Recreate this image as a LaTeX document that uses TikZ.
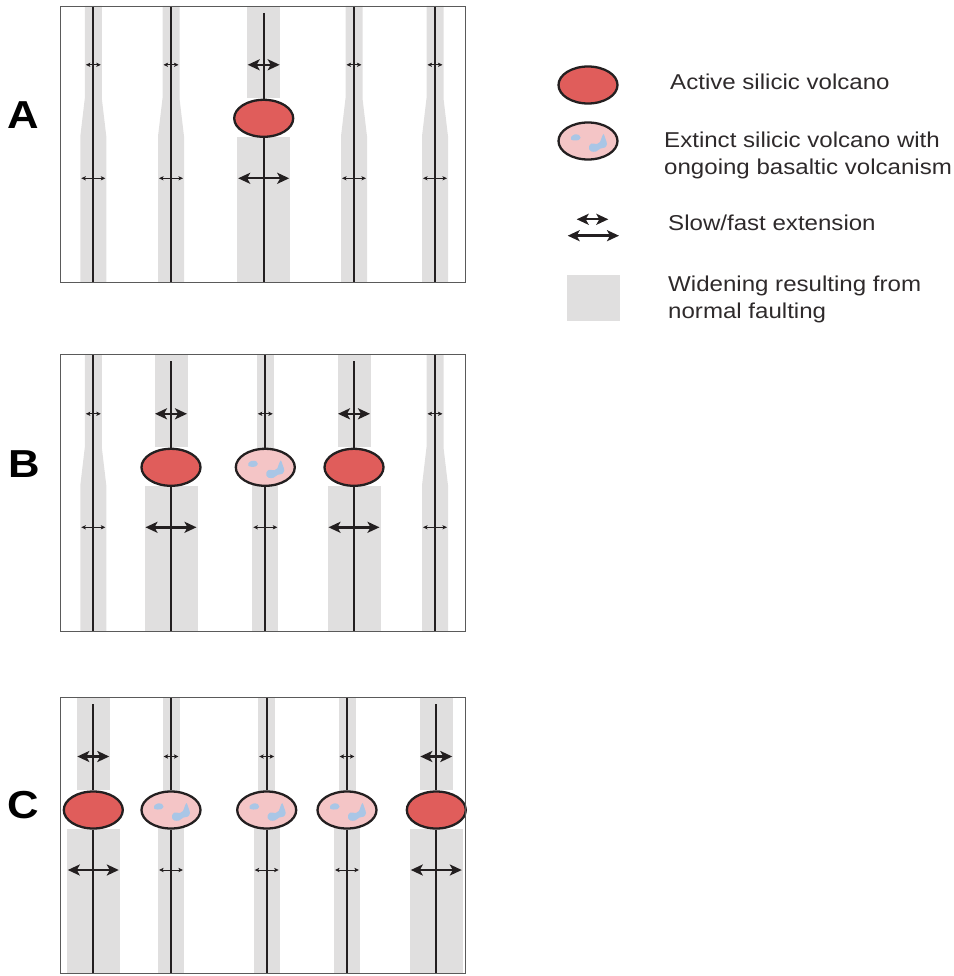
\documentclass[tikz,border=0pt]{standalone}
\usepackage{fontspec}
\setmainfont{Liberation Sans}[FakeStretch=1.12]
\usetikzlibrary{arrows.meta,shapes.geometric}

\definecolor{stripgray}{HTML}{E0DFDF}
\definecolor{faultink}{HTML}{231F20}
\definecolor{framegray}{HTML}{5A5A5A}
\definecolor{activered}{HTML}{E05D5B}
\definecolor{extinctpink}{HTML}{F4C5C6}
\definecolor{basaltblue}{HTML}{A9C6E6}

\tikzset{
  stripfill/.style={fill=stripgray, draw=none},
  fault/.style={draw=faultink, line width=2.2pt},
  panelframe/.style={draw=framegray, line width=1.3pt},
  slowext/.style={draw=faultink, line width=0.9pt,
    {Stealth[length=4.5pt,width=4.2pt,inset=1pt]}-{Stealth[length=4.5pt,width=4.2pt,inset=1pt]}},
  fastext/.style={draw=faultink, line width=2.4pt,
    {Stealth[length=12pt,width=11pt,inset=3pt]}-{Stealth[length=12pt,width=11pt,inset=3pt]}},
  volcano/.style={ellipse, draw=faultink, line width=2.3pt, minimum width=59pt,
    minimum height=37pt, inner sep=0pt},
  activevolc/.style={volcano, fill=activered},
  extinctvolc/.style={volcano, fill=extinctpink},
  panellabel/.style={anchor=base west, inner sep=0pt, font=\fontsize{39}{39}\selectfont\bfseries},
  legendtext/.style={anchor=base west, inner sep=0pt, align=left,
    font=\fontsize{21.5}{27.3}\selectfont, text=faultink!95!white},
}

% basaltic patches inside an extinct volcano, drawn about its centre
\newcommand{\basaltpatches}[1]{%
  \begin{scope}[shift={(#1.center)}]
    \fill[basaltblue] plot[smooth cycle, tension=0.6] coordinates
      {(-17,-4) (-13.5,-6.5) (-9,-6) (-7.5,-3.5) (-9.5,-1) (-13.5,-0.5) (-17,-1.5)};
    \fill[basaltblue] plot[smooth cycle, tension=0.5] coordinates
      {(1,5.5) (3.5,2.5) (9,3) (12,1) (13.5,-3) (15.5,-7) (17.5,-2) (19,3) (17,6.5)
       (12.5,7.5) (8,10.5) (3.5,10.5) (1,8)};
  \end{scope}}

% fault whose zone of normal faulting widens southward (no volcano)
% #1 name, #2 x, #3 level of the volcano row, #4 top, #5 bottom
\newcommand{\taperfault}[5]{%
  \fill[stripfill] (#2-8.5,#4) -- (#2+8.5,#4) -- (#2+8.5,#3-20) -- (#2+13,#3+18)
    -- (#2+13,#5) -- (#2-13,#5) -- (#2-13,#3+18) -- (#2-8.5,#3-20) -- cycle;
  \coordinate (#1t) at (#2,#4);
  \coordinate (#1b) at (#2,#5);
  \draw[fault] (#1t) -- (#1b);
  \coordinate (#1ul) at (#2-7.5,#3-53.5); \coordinate (#1ur) at (#2+7.5,#3-53.5);
  \coordinate (#1ll) at (#2-12,#3+60);    \coordinate (#1lr) at (#2+12,#3+60);
  \draw[slowext] (#1ul) -- (#1ur);
  \draw[slowext] (#1ll) -- (#1lr);
}

% fault with an active silicic volcano and fast extension
\newcommand{\activefault}[5]{%
  \fill[stripfill] (#2-16.5,#4) rectangle (#2+16.5,#3-20);
  \fill[stripfill] (#2-26.5,#3+19) rectangle (#2+26.5,#5);
  \node[activevolc] (#1v) at (#2,#3) {};
  \coordinate (#1t) at (#2,#4+7);
  \coordinate (#1b) at (#2,#5);
  \draw[fault] (#1t) -- (#1v.north);
  \draw[fault] (#1v.south) -- (#1b);
  \coordinate (#1ul) at (#2-16,#3-53.5);  \coordinate (#1ur) at (#2+16,#3-53.5);
  \coordinate (#1ll) at (#2-25.5,#3+60);  \coordinate (#1lr) at (#2+25.5,#3+60);
  \draw[fastext] (#1ul) -- (#1ur);
  \draw[fastext] (#1ll) -- (#1lr);
}

% fault with an extinct silicic volcano and slow extension
\newcommand{\extinctfault}[5]{%
  \fill[stripfill] (#2-8.5,#4) rectangle (#2+8.5,#3);
  \fill[stripfill] (#2-13,#3) rectangle (#2+13,#5);
  \node[extinctvolc] (#1v) at (#2,#3) {};
  \coordinate (#1t) at (#2,#4);
  \coordinate (#1b) at (#2,#5);
  \draw[fault] (#1t) -- (#1v.north);
  \draw[fault] (#1v.south) -- (#1b);
  \basaltpatches{#1v}
  \coordinate (#1ul) at (#2-7.5,#3-53.5); \coordinate (#1ur) at (#2+7.5,#3-53.5);
  \coordinate (#1ll) at (#2-12,#3+60);    \coordinate (#1lr) at (#2+12,#3+60);
  \draw[slowext] (#1ul) -- (#1ur);
  \draw[slowext] (#1ll) -- (#1lr);
}

\begin{document}
\begin{tikzpicture}[x=1pt, y=-1pt]
\useasboundingbox (0,0) rectangle (953,976);

% ---- stage A
\taperfault{A1}{93.3}{118.3}{6}{282}
\taperfault{A2}{171}{118.3}{6}{282}
\activefault{A3}{263.7}{118.3}{6}{282}
\taperfault{A4}{354}{118.3}{6}{282}
\taperfault{A5}{435}{118.3}{6}{282}
\node[panelframe, draw, minimum width=405pt, minimum height=276pt, anchor=north west,
  inner sep=0pt] (frameA) at (60,6) {};
\node[panellabel] (labA) at (7.5,128.3) {A};

% ---- stage B
\taperfault{B1}{93.3}{467.3}{354}{631}
\activefault{B2}{171}{467.3}{354}{631}
\extinctfault{B3}{265.3}{467.3}{354}{631}
\activefault{B4}{354}{467.3}{354}{631}
\taperfault{B5}{435}{467.3}{354}{631}
\node[panelframe, draw, minimum width=405pt, minimum height=277pt, anchor=north west,
  inner sep=0pt] (frameB) at (60,354) {};
\node[panellabel] (labB) at (8.5,477.3) {B};

% ---- stage C
\activefault{C1}{93.3}{810}{697}{973}
\extinctfault{C2}{171}{810}{697}{973}
\extinctfault{C3}{266.7}{810}{697}{973}
\extinctfault{C4}{347}{810}{697}{973}
\activefault{C5}{436.3}{810}{697}{973}
\node[panelframe, draw, minimum width=405pt, minimum height=276pt, anchor=north west,
  inner sep=0pt] (frameC) at (60,697) {};
\node[panellabel] (labC) at (7.5,818) {C};

% ---- key (two-line entries are placed by the baseline of their last line)
\node[activevolc] (keyActive) at (588,85) {};
\node[legendtext] (keyActiveText) at (670,90) {Active silicic volcano};

\node[extinctvolc] (keyExtinct) at (588,141) {};
\basaltpatches{keyExtinct}
\node[legendtext] (keyExtinctText) at (664,174.6)
  {Extinct silicic volcano with\\ongoing basaltic volcanism};

\coordinate (keySlowL) at (576.7,219.3); \coordinate (keySlowR) at (608.3,219.3);
\coordinate (keyFastL) at (567.7,235.7); \coordinate (keyFastR) at (619,235.7);
\draw[fastext] (keySlowL) -- (keySlowR);
\draw[fastext] (keyFastL) -- (keyFastR);
\node[legendtext] (keyExtText) at (668,230) {Slow/fast extension};

\node[fill=stripgray, minimum width=53pt, minimum height=46pt, inner sep=0pt,
  anchor=north west] (keyStrip) at (566.7,275) {};
\node[legendtext] (keyStripText) at (668,318.8)
  {Widening resulting from\\normal faulting};
\end{tikzpicture}
\end{document}
